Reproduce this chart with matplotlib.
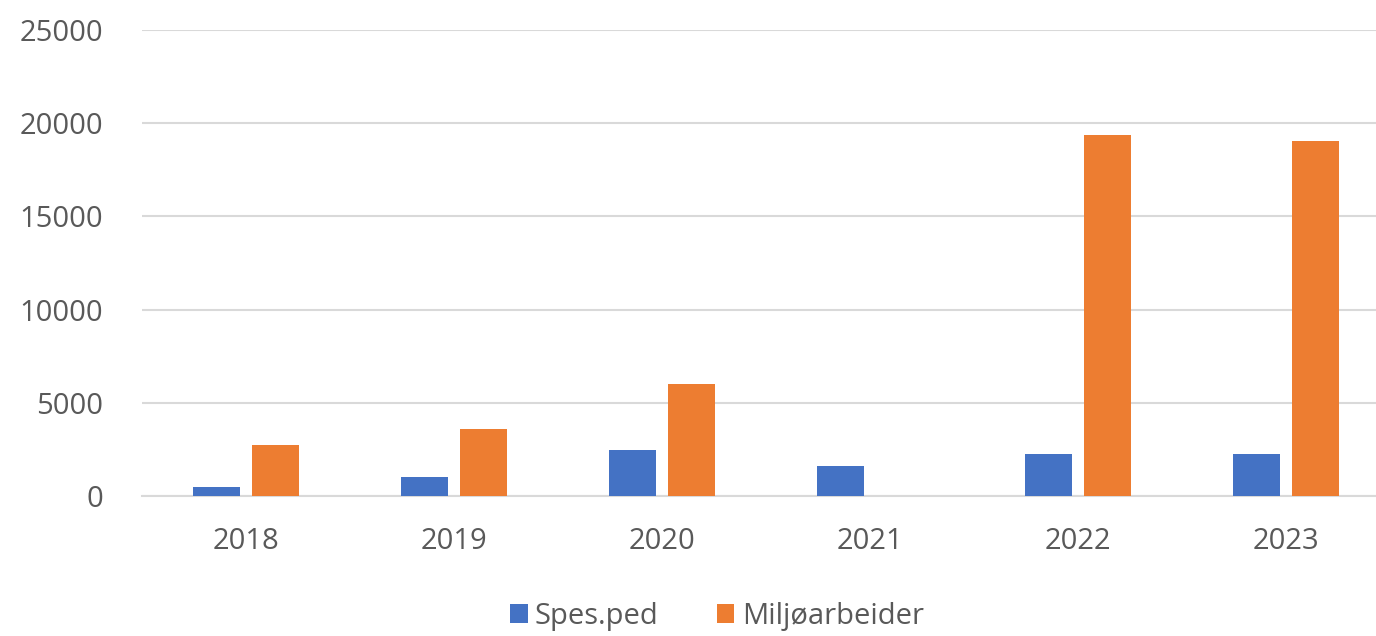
import matplotlib.pyplot as plt
import numpy as np

years = ['2018', '2019', '2020', '2021', '2022', '2023']
spes_ped = [500, 1000, 2450, 1620, 2250, 2250]
miljo = [2750, 3580, 6000, 0, 19380, 19060]
yticks = [0, 5000, 10000, 15000, 20000, 25000]

plt.rcParams['font.family'] = ['Open Sans', 'DejaVu Sans']
grey = '#595959'

fig = plt.figure(figsize=(13.76, 6.36), dpi=100)
ax = fig.add_axes([0.103, 0.22, 0.907, 0.733])

x = np.arange(len(years))
w = 0.225
ax.bar(x - 0.142, spes_ped, w, color='#4472C4', label='Spes.ped', zorder=3)
ax.bar(x + 0.142, miljo, w, color='#ED7D31', label='Miljøarbeider', zorder=3)

ax.set_xlim(-0.5, len(years) - 0.5)
ax.set_ylim(0, 25000)
ax.set_yticks(yticks)
ax.set_yticklabels([str(v) for v in yticks])
ax.set_xticks(x)
ax.set_xticklabels(years)
ax.yaxis.grid(True, color='#D9D9D9', linewidth=1.5, zorder=0)
for s in ['top', 'right', 'left']:
    ax.spines[s].set_visible(False)
ax.spines['bottom'].set_color('#D9D9D9')
ax.spines['bottom'].set_linewidth(1.5)
ax.tick_params(axis='y', length=0, pad=28, labelsize=21, labelcolor=grey)
ax.tick_params(axis='x', length=0, pad=22, labelsize=21, labelcolor=grey)

fig.legend(loc='center', bbox_to_anchor=(0.521, 0.031), ncol=2, frameon=False,
           fontsize=21, labelcolor=grey, handlelength=0.6, handleheight=0.6,
           handletextpad=0.25, columnspacing=2.0)

fig.savefig('out.png', dpi=100)
